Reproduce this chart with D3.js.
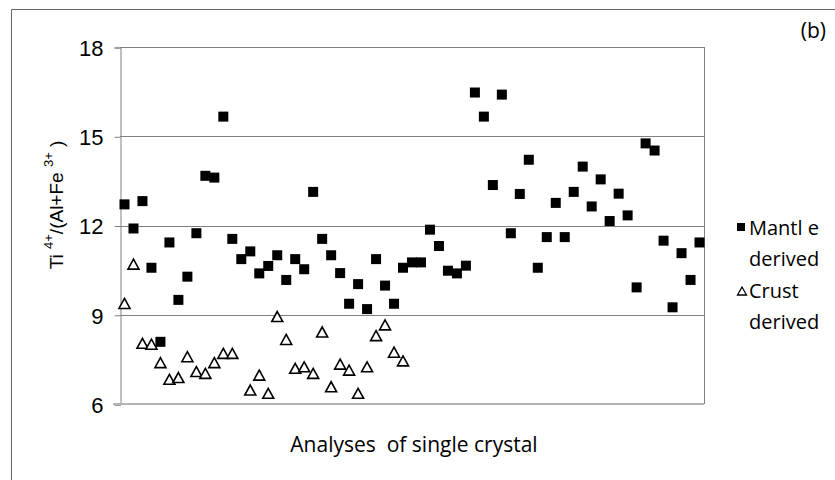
<!DOCTYPE html>
<html>
<head>
<meta charset="utf-8">
<script src="https://cdn.jsdelivr.net/npm/d3@7"></script>
<style>
  body { margin: 0; background: #fff; }
  svg { display: block; }
</style>
</head>
<body>
<div id="chart-container"></div>
<script>
// valores, un punto por analisis
const MANTLE = [12.71, 11.90, 12.82, 10.58, 8.09, 11.43, 9.50, 10.28, 11.74, 13.67,
  13.61, 15.66, 11.55, 10.87, 11.13, 10.39, 10.64, 11.00, 10.17, 10.87,
  10.53, 13.13, 11.55, 11.00, 10.40, 9.37, 10.03, 9.19, 10.87, 9.98,
  9.37, 10.58, 10.76, 10.76, 11.86, 11.31, 10.48, 10.39, 10.65, 16.47,
  15.66, 13.36, 16.40, 11.74, 13.06, 14.21, 10.58, 11.61, 12.76, 11.61,
  13.13, 13.98, 12.64, 13.55, 12.15, 13.07, 12.34, 9.92, 14.76, 14.52,
  11.49, 9.25, 11.07, 10.17, 11.43];
const CRUST = [9.38, 10.70, 8.04, 8.01, 7.39, 6.83, 6.89, 7.59, 7.09, 7.03,
  7.39, 7.70, 7.70, null, 6.47, 6.97, 6.36, 8.94, 8.17, 7.20,
  7.25, 7.03, 8.42, 6.58, 7.34, 7.14, 6.36, 7.25, 8.30, 8.66,
  7.74, 7.45];
const Y_TICKS = [6, 9, 12, 15, 18];
const LEGEND = [
  {key: 'mantle', lines: ['Mantl e', 'derived']},
  {key: 'crust', lines: ['Crust', 'derived']}
];

const WIDTH = 835, HEIGHT = 480;
const plot = {left: 120, right: 704, top: 47, bottom: 404};

const svg = d3.select('#chart-container')
  .append('svg')
    .attr('width', WIDTH)
    .attr('height', HEIGHT);

// marco exterior (solo arriba e izquierda se ven)
svg.append('path')
  .attr('d', `M11.5,${HEIGHT + 5} V9.5 H${WIDTH + 5}`)
  .attr('fill', 'none')
  .attr('stroke', '#666')
  .attr('stroke-width', 1);

const escalaX = d3.scaleBand()
  .domain(d3.range(MANTLE.length))
  .range([plot.left, plot.right]);

const escalaY = d3.scaleLinear()
  .domain([6, 18])
  .range([plot.bottom, plot.top]);

const cx = i => escalaX(i) + escalaX.bandwidth() / 2;

// lineas de grilla
svg.append('g')
  .selectAll('line')
  .data(Y_TICKS.filter(t => t > 6))
  .join('line')
    .attr('x1', plot.left)
    .attr('x2', plot.right)
    .attr('y1', d => Math.round(escalaY(d)) + 0.5)
    .attr('y2', d => Math.round(escalaY(d)) + 0.5)
    .attr('stroke', '#808080')
    .attr('stroke-width', 1);

// borde derecho
svg.append('line')
  .attr('x1', plot.right + 0.5)
  .attr('x2', plot.right + 0.5)
  .attr('y1', plot.top)
  .attr('y2', plot.bottom)
  .attr('stroke', '#808080');

// eje y
const yAxis = svg.append('g')
  .attr('transform', `translate(${plot.left + 0.5}, 0.5)`)
  .call(d3.axisLeft(escalaY).tickValues(Y_TICKS).tickSize(6).tickPadding(11));

yAxis.select('.domain').attr('stroke', '#808080');
yAxis.selectAll('.tick line').attr('stroke', '#808080');
yAxis.selectAll('.tick text')
  .attr('font-family', 'Liberation Sans, Arial, sans-serif')
  .attr('font-size', 22)
  .attr('dy', '0.36em')
  .attr('fill', '#000');

// linea base
svg.append('line')
  .attr('x1', plot.left - 7)
  .attr('x2', plot.right)
  .attr('y1', plot.bottom)
  .attr('y2', plot.bottom)
  .attr('stroke', '#b3b3b3')
  .attr('stroke-width', 2);

// titulo eje y
const yTitle = svg.append('text')
  .attr('transform', `translate(63, 205) rotate(-90)`)
  .attr('text-anchor', 'middle')
  .attr('font-family', 'Liberation Sans, Arial, sans-serif')
  .attr('font-size', 19)
  .attr('fill', '#000');
yTitle.append('tspan').text('Ti ');
yTitle.append('tspan').attr('font-size', 13).attr('dy', -10).text('4+');
yTitle.append('tspan').attr('dy', 10).text('/(Al+Fe ');
yTitle.append('tspan').attr('font-size', 13).attr('dy', -10).text('3+');
yTitle.append('tspan').attr('dy', 10).text(' )');

// titulo eje x
svg.append('text')
  .attr('x', 414)
  .attr('y', 452)
  .attr('text-anchor', 'middle')
  .attr('font-family', 'Open Sans, Noto Sans, sans-serif')
  .attr('font-size', 21)
  .attr('fill', '#000')
  .attr('xml:space', 'preserve')
  .text('Analyses  of single crystal');

// (b)
svg.append('text')
  .attr('x', 826)
  .attr('y', 38)
  .attr('text-anchor', 'end')
  .attr('font-family', 'Open Sans, Noto Sans, sans-serif')
  .attr('font-size', 21)
  .attr('fill', '#000')
  .text('(b)');

const trianglePath = (w, h) => `M0,${-h / 2} L${w / 2},${h / 2} L${-w / 2},${h / 2} Z`;

// triangulos: corteza
svg.append('g')
  .selectAll('path')
  .data(CRUST.map((v, i) => ({i, v})).filter(d => d.v !== null))
  .join('path')
    .attr('d', trianglePath(11, 10))
    .attr('transform', d => `translate(${cx(d.i)}, ${escalaY(d.v)})`)
    .attr('fill', '#fff')
    .attr('stroke', '#000')
    .attr('stroke-width', 1.6)
    .attr('stroke-linejoin', 'miter');

// cuadrados: manto
const SQ = 10;
svg.append('g')
  .selectAll('rect')
  .data(MANTLE.map((v, i) => ({i, v})))
  .join('rect')
    .attr('x', d => cx(d.i) - SQ / 2)
    .attr('y', d => escalaY(d.v) - SQ / 2)
    .attr('width', SQ)
    .attr('height', SQ)
    .attr('fill', '#000');

// leyenda
const legend = svg.append('g')
  .attr('font-family', 'Open Sans, Noto Sans, sans-serif')
  .attr('font-size', 20)
  .attr('fill', '#000');

LEGEND.forEach((item, k) => {
  const baseY = 235 + k * 63;
  const g = legend.append('g');
  if (item.key === 'mantle') {
    g.append('rect')
      .attr('x', 737)
      .attr('y', baseY - 12)
      .attr('width', 8)
      .attr('height', 8)
      .attr('fill', '#000');
  } else {
    g.append('path')
      .attr('d', trianglePath(9, 8))
      .attr('transform', `translate(742, ${baseY - 7})`)
      .attr('fill', '#fff')
      .attr('stroke', '#000')
      .attr('stroke-width', 1.3);
  }
  g.selectAll('text')
    .data(item.lines)
    .join('text')
      .attr('x', 749)
      .attr('y', (d, j) => baseY + j * 31)
      .attr('xml:space', 'preserve')
      .text(d => d);
});
</script>
</body>
</html>
